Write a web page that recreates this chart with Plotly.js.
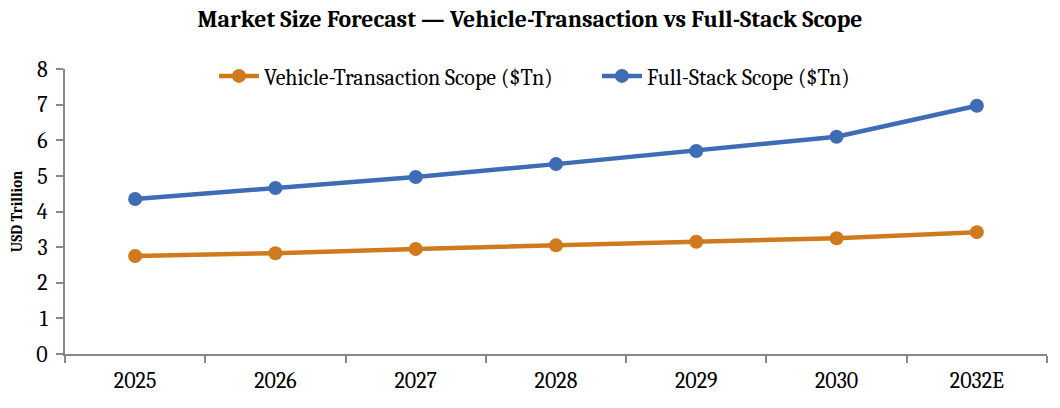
<!DOCTYPE html>
<html><head><meta charset="utf-8">
<script src="https://cdn.plot.ly/plotly-3.0.1.min.js"></script>
<style>html,body{margin:0;padding:0;background:#fff}#c{width:1060px;height:408px}</style>
</head><body><div id="c"></div>
<script>
const categories = ["2025","2026","2027","2028","2029","2030","2032E"];
const vehicleTransaction = [2.75, 2.83, 2.95, 3.05, 3.15, 3.25, 3.42];
const fullStack = [4.35, 4.66, 4.97, 5.33, 5.70, 6.10, 6.97];
const yTicks = [0,1,2,3,4,5,6,7,8];

const font = "Cambria, 'Liberation Serif', 'DejaVu Serif', serif";
const orange = "#CF7A1C";
const blue = "#3E6DB5";

const traces = [
  {x: categories, y: vehicleTransaction, name: "Vehicle-Transaction Scope ($Tn)", type: "scatter", mode: "lines+markers",
   line: {color: orange, width: 4.5}, marker: {color: orange, size: 14}},
  {x: categories, y: fullStack, name: "Full-Stack Scope ($Tn)", type: "scatter", mode: "lines+markers",
   line: {color: blue, width: 4.5}, marker: {color: blue, size: 14}}
];

const layout = {
  width: 1060, height: 408,
  margin: {l: 65, r: 13, t: 69, b: 54},
  paper_bgcolor: "#fff", plot_bgcolor: "#fff",
  font: {family: font, color: "#000"},
  title: {text: "<b>Market Size Forecast — Vehicle-Transaction vs Full-Stack Scope</b>", x: 0.5, xanchor: "center", y: 0.955, yanchor: "middle", font: {size: 23.7, family: font}},
  xaxis: {type: "category", range: [-0.5, 6.5], showgrid: false, showline: true, linecolor: "#888", linewidth: 2,
          ticks: "outside", tickson: "boundaries", ticklen: 7, tickcolor: "#888", tickwidth: 2,
          ticklabelstandoff: 6,
          tickfont: {size: 22, family: font}, zeroline: false},
  yaxis: {range: [0, 8], tickvals: yTicks, showgrid: false, showline: true, linecolor: "#888", linewidth: 2,
          ticks: "outside", ticklen: 7, tickcolor: "#888", tickwidth: 2, zeroline: false,
          ticklabelstandoff: 4,
          tickfont: {size: 22, family: font},
          title: {text: "<b>USD Trillion</b>", font: {size: 15, family: font}, standoff: 10}},
  showlegend: true,
  legend: {orientation: "h", x: 0.1517, xanchor: "left", y: 0.975, yanchor: "middle", font: {size: 22, family: font},
           bgcolor: "rgba(0,0,0,0)", itemwidth: 40, entrywidth: 328, entrywidthmode: "pixels"}
};
Plotly.newPlot("c", traces, layout, {displayModeBar: false, staticPlot: true});
</script></body></html>
